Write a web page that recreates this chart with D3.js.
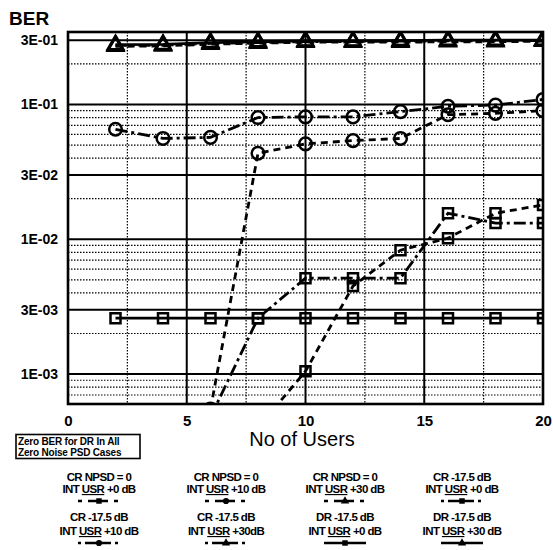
<!DOCTYPE html>
<html><head><meta charset="utf-8">
<script src="https://cdn.jsdelivr.net/npm/d3@7"></script>
<style>body{margin:0;background:#fff} svg{display:block}</style>
</head><body>
<svg id="c" width="553" height="550"></svg>
<script>
// ---------- DATA ----------
const users = [2, 4, 6, 8, 10, 12, 14, 16, 18, 20];
const xTickValues = [0, 5, 10, 15, 20];
const xMinorValues = [2.5, 7.5, 12.5, 17.5];
const yTickValues = [0.3, 0.1, 0.03, 0.01, 0.003, 0.001];
const yTickLabels = ["3E-01", "1E-01", "3E-02", "1E-02", "3E-03", "1E-03"];

const seriesLabel1 = ["CR NPSD = 0", "CR NPSD = 0", "CR NPSD = 0", "CR -17.5 dB",
                      "CR -17.5 dB", "CR -17.5 dB", "DR -17.5 dB", "DR -17.5 dB"];
const seriesLabel2 = ["+0 dB", "+10 dB", "+30 dB", "+0 dB", "+10 dB", "+30dB", "+0 dB", "+30 dB"];

const crNpsd0_usr0   = [null, null, null, 4.0e-4, 1.05e-3, 4.5e-3, 8.3e-3, 1.02e-2, 1.56e-2, 1.8e-2];
const crNpsd0_usr10  = [null, null, 5.5e-4, 4.35e-2, 5.1e-2, 5.4e-2, 5.6e-2, 8.4e-2, 8.6e-2, 9.0e-2];
const crNpsd0_usr30  = [0.270, 0.272, 0.280, 0.285, 0.290, 0.290, 0.290, 0.292, 0.292, 0.295];
const cr175_usr0     = [null, null, 4.8e-4, 2.6e-3, 5.15e-3, 5.15e-3, 5.15e-3, 1.56e-2, 1.32e-2, 1.32e-2];
const cr175_usr10    = [6.55e-2, 5.6e-2, 5.7e-2, 8.0e-2, 8.1e-2, 8.1e-2, 8.85e-2, 9.7e-2, 9.9e-2, 0.109];
const cr175_usr30    = [0.274, 0.275, 0.284, 0.288, 0.293, 0.293, 0.295, 0.296, 0.296, 0.298];
const dr175_usr0     = [2.6e-3, 2.6e-3, 2.6e-3, 2.6e-3, 2.6e-3, 2.6e-3, 2.6e-3, 2.6e-3, 2.6e-3, 2.6e-3];
const dr175_usr30    = [0.278, 0.279, 0.288, 0.292, 0.296, 0.296, 0.298, 0.300, 0.300, 0.300];

const seriesValues = [crNpsd0_usr0, crNpsd0_usr10, crNpsd0_usr30, cr175_usr0,
                      cr175_usr10, cr175_usr30, dr175_usr0, dr175_usr30];

// ---------- STYLE ----------
const markerTypes = ["square", "circle", "triangle", "square", "circle", "triangle", "square", "triangle"];
const lineKinds = ["dash", "dash", "dash", "dashdot", "dashdot", "dashdot", "solid", "solid"];
const plotDash = {dash: "7,5", dashdot: "12,4,3,4", solid: null};
const legendDash = {dash: "4,6,20,6,4", dashdot: "3,4,26,4,3", solid: null};
const FONT = "'Liberation Sans', Arial, Helvetica, sans-serif";

const svg = d3.select("#c");
const L = 68, R = 543, T = 32, B = 404;
const x = d3.scaleLinear().domain([0, 20]).range([L, R]);
const y = d3.scaleLog().domain([6e-4, 0.345]).range([B, T]);

// minor horizontal gridlines (2..9 except 3 in each decade)
const yMinor = [];
[1e-4, 1e-3, 1e-2, 1e-1].forEach(d => {
  [2, 4, 5, 6, 7, 8, 9].forEach(m => {
    const v = +(m * d).toPrecision(3);
    if (v > 6.05e-4 && v < 0.345) yMinor.push(v);
  });
});

const grid = svg.append("g");
grid.selectAll(".hm").data(yMinor).join("line")
  .attr("x1", L).attr("x2", R).attr("y1", d => y(d)).attr("y2", d => y(d))
  .attr("stroke", "#000").attr("stroke-width", 1.2).attr("stroke-dasharray", "1.5,1.5");
grid.selectAll(".vm").data(xMinorValues).join("line")
  .attr("y1", T).attr("y2", B).attr("x1", d => x(d)).attr("x2", d => x(d))
  .attr("stroke", "#000").attr("stroke-width", 1.2).attr("stroke-dasharray", "1.5,1.5");
grid.selectAll(".hM").data(yTickValues).join("line")
  .attr("x1", L).attr("x2", R).attr("y1", d => y(d)).attr("y2", d => y(d))
  .attr("stroke", "#000").attr("stroke-width", 2);
grid.selectAll(".vM").data(xTickValues.slice(1, -1)).join("line")
  .attr("y1", T).attr("y2", B).attr("x1", d => x(d)).attr("x2", d => x(d))
  .attr("stroke", "#000").attr("stroke-width", 2);

// clip
svg.append("clipPath").attr("id", "pc").append("rect")
  .attr("x", L).attr("y", T).attr("width", R - L).attr("height", B - T);

const plotG = svg.append("g").attr("clip-path", "url(#pc)");
const line = d3.line()
  .defined(d => d.v != null)
  .x(d => x(d.u)).y(d => y(d.v));

const symbolOf = {square: d3.symbolSquare, circle: d3.symbolCircle, triangle: d3.symbolTriangle};
const symbolSize = {square: 100, circle: 125, triangle: 105};

seriesValues.forEach((vals, i) => {
  const pts = users.map((u, j) => ({u: u, v: vals[j]}));
  plotG.append("path").datum(pts)
    .attr("d", line)
    .attr("fill", "none").attr("stroke", "#000").attr("stroke-width", 2.8)
    .attr("stroke-dasharray", plotDash[lineKinds[i]]);
});
seriesValues.forEach((vals, i) => {
  const pts = users.map((u, j) => ({u: u, v: vals[j]})).filter(d => d.v != null);
  plotG.selectAll(null).data(pts).join("path")
    .attr("transform", d => `translate(${x(d.u)},${y(d.v)})`)
    .attr("d", d3.symbol().type(symbolOf[markerTypes[i]]).size(symbolSize[markerTypes[i]]))
    .attr("fill", "none").attr("stroke", "#000").attr("stroke-width", 2.5);
});

// border
svg.append("rect").attr("x", L).attr("y", T).attr("width", R - L).attr("height", B - T)
  .attr("fill", "none").attr("stroke", "#000").attr("stroke-width", 2.6);

// axes
const yAxis = svg.append("g").attr("transform", `translate(${L},0)`)
  .call(d3.axisLeft(y).tickValues(yTickValues).tickFormat((d, i) => yTickLabels[i]).tickSize(0).tickPadding(10));
yAxis.select(".domain").remove();
yAxis.selectAll("text").attr("font-family", FONT).attr("font-size", 14).attr("font-weight", "bold").attr("fill", "#000");

const xAxis = svg.append("g").attr("transform", `translate(0,${B})`)
  .call(d3.axisBottom(x).tickValues(xTickValues).tickFormat(d3.format("d")).tickSize(0).tickPadding(11));
xAxis.select(".domain").remove();
xAxis.selectAll("text").attr("font-family", FONT).attr("font-size", 15).attr("font-weight", "bold").attr("fill", "#000");

svg.append("text").attr("x", 9).attr("y", 25).text("BER")
  .attr("font-family", FONT).attr("font-size", 19).attr("font-weight", "bold");
svg.append("text").attr("x", 302).attr("y", 446).attr("text-anchor", "middle").text("No of Users")
  .attr("font-family", FONT).attr("font-size", 20);

// note box
svg.append("rect").attr("x", 16).attr("y", 434.5).attr("width", 124).attr("height", 24)
  .attr("fill", "none").attr("stroke", "#000").attr("stroke-width", 1.6);
["Zero BER for DR In All", "Zero Noise PSD Cases"].forEach((t, i) => {
  svg.append("text").attr("x", 18).attr("y", 445 + i * 11).text(t)
    .attr("font-family", FONT).attr("font-size", 10).attr("font-weight", "bold")
    .attr("letter-spacing", -0.2);
});

// legend
const colX = [99, 226, 345, 462];
const rowY = [[477, 489, 501], [517, 531, 543]];
seriesValues.forEach((vals, i) => {
  const cx = colX[i % 4], r = rowY[Math.floor(i / 4)];
  const g = svg.append("g");
  g.append("text").attr("x", cx).attr("y", r[0] + 4).attr("text-anchor", "middle")
    .text(seriesLabel1[i])
    .attr("font-family", FONT).attr("font-size", 11.5).attr("font-weight", "bold").attr("letter-spacing", -0.6);
  const t2 = g.append("text").attr("x", cx).attr("y", r[1] + 4).attr("text-anchor", "middle")
    .attr("font-family", FONT).attr("font-size", 11.5).attr("font-weight", "bold").attr("letter-spacing", -0.6);
  t2.append("tspan").text("INT ");
  t2.append("tspan").text("USR").attr("text-decoration", "underline");
  t2.append("tspan").text(" " + seriesLabel2[i]);
  g.append("line").attr("x1", cx - 21).attr("x2", cx + 21).attr("y1", r[2]).attr("y2", r[2])
    .attr("stroke", "#000").attr("stroke-width", 2.6)
    .attr("stroke-dasharray", legendDash[lineKinds[i]]);
  g.append("path").attr("transform", `translate(${cx},${r[2]})`)
    .attr("d", d3.symbol().type(symbolOf[markerTypes[i]]).size(30))
    .attr("fill", "#000");
});
</script>
</body></html>
